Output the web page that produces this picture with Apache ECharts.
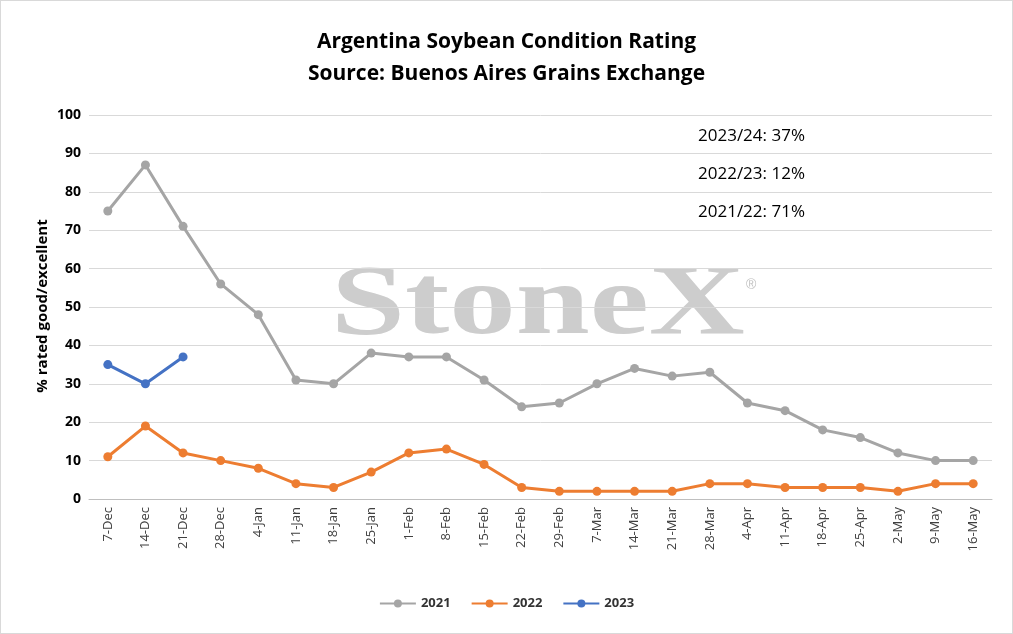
<!DOCTYPE html><html><head><meta charset="utf-8">
<script src="https://cdn.jsdelivr.net/npm/echarts@6/dist/echarts.min.js"></script>
<style>html,body{margin:0;padding:0}#c{width:1013px;height:634px;box-sizing:border-box;border:1px solid #d9d9d9}</style>
</head><body><div id="c"></div><script>
const categories=['7-Dec','14-Dec','21-Dec','28-Dec','4-Jan','11-Jan','18-Jan','25-Jan','1-Feb','8-Feb','15-Feb','22-Feb','29-Feb','7-Mar','14-Mar','21-Mar','28-Mar','4-Apr','11-Apr','18-Apr','25-Apr','2-May','9-May','16-May'];
const s2021=[75,87,71,56,48,31,30,38,37,37,31,24,25,30,34,32,33,25,23,18,16,12,10,10];
const s2022=[11,19,12,10,8,4,3,7,12,13,9,3,2,2,2,2,4,4,3,3,3,2,4,4];
const s2023=[35,30,37];
const notes=['2023/24: 37%','2022/23: 12%','2021/22: 71%'];
const ch=echarts.init(document.getElementById('c'));
const mk=(n,d,c)=>({name:n,type:'line',data:d,symbol:'circle',symbolSize:9,lineStyle:{width:3,color:c},itemStyle:{color:c}});
ch.setOption({
 title:{text:'Argentina Soybean Condition Rating\nSource: Buenos Aires Grains Exchange',left:'center',top:20,textStyle:{fontFamily:'Open Sans',fontSize:21,fontWeight:'bold',color:'#000',lineHeight:32}},
 graphic:[
  {type:'text',x:330,y:256,scaleX:1.33,z:0,style:{text:'StoneX',font:'bold 100px "Liberation Serif"',fill:'#cdcdcd',verticalAlign:'top'}},
  {type:'text',left:745,top:277,style:{text:'®',font:'14px sans-serif',fill:'#c0c0c0'}},
  ...notes.map((t,i)=>({type:'text',left:697,top:127+i*38,style:{text:t,font:'17px "Open Sans"',fill:'#000'}})),
  {type:'text',x:42,y:305,rotation:Math.PI/2,style:{text:'% rated good/excellent',font:'bold 15px "Open Sans"',fill:'#000',align:'center',verticalAlign:'middle'}}
 ],
 legend:{bottom:18,itemWidth:36,itemHeight:10,itemGap:20,textStyle:{fontFamily:'Open Sans',fontWeight:'bold',fontSize:13,color:'#333'},data:['2021','2022','2023']},
 grid:{left:88,right:20,top:114,bottom:134},
 xAxis:{type:'category',data:categories,boundaryGap:true,axisTick:{show:false},axisLine:{lineStyle:{color:'#bfbfbf'}},axisLabel:{rotate:90,fontFamily:'Open Sans',fontSize:13,color:'#404040'}},
 yAxis:{type:'value',min:0,max:100,interval:10,splitLine:{lineStyle:{color:'#d9d9d9'}},axisLabel:{fontFamily:'Open Sans',fontWeight:'bold',fontSize:14,color:'#000'}},
 series:[mk('2021',s2021,'#a5a5a5'),mk('2022',s2022,'#ed7d31'),mk('2023',s2023,'#4472c4')]
});
</script></body></html>
